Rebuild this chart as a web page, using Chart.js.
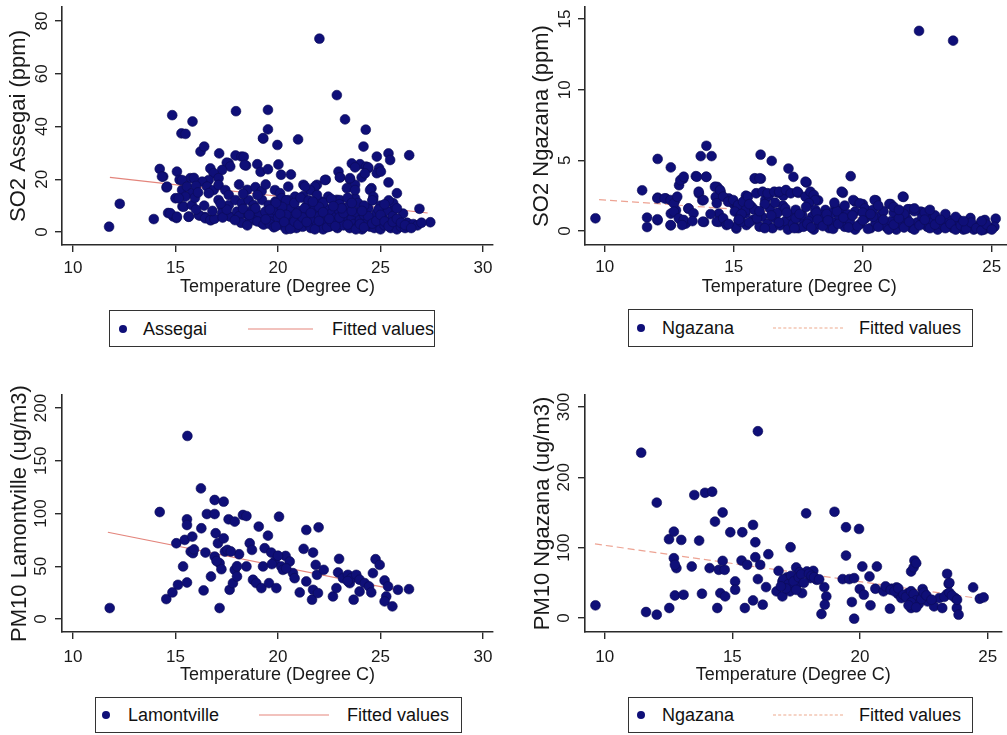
<!DOCTYPE html>
<html>
<head>
<meta charset="utf-8">
<script src="https://cdn.jsdelivr.net/npm/chart.js@4.4.1/dist/chart.umd.min.js"></script>
<style>
  html, body { margin: 0; padding: 0; background: #fff; width: 1007px; height: 735px; overflow: hidden; }
  canvas { position: absolute; }
  .lg { position: absolute; border: 1.5px solid #333; box-sizing: border-box; background: #fff;
        font: 18px "Liberation Sans", Arial, sans-serif; color: #111; }
  .lg span { position: absolute; top: 50%; transform: translateY(-50%); white-space: nowrap; }
  .lg .dot { width: 8px; height: 8px; border-radius: 50%; background: #0f0f78; margin-left: -4px; }
  .lg .ln { height: 0; border-top: 1.2px solid; }
</style>
</head>
<body>
<canvas id="c1" width="500" height="300" style="left:0;top:0"></canvas>
<canvas id="c2" width="519" height="300" style="left:500px;top:0"></canvas>
<canvas id="c3" width="500" height="317" style="left:0;top:370px"></canvas>
<canvas id="c4" width="507" height="317" style="left:500px;top:370px"></canvas>
<script>
/* ---------- данные ---------- */
const xTitle = 'Temperature (Degree C)';
const fitLabel = 'Fitted values';
const seriesNames = ['Assegai', 'Ngazana', 'Lamontville', 'Ngazana'];
const yTitles = ['SO2 Assegai (ppm)', 'SO2 Ngazana (ppm)', 'PM10 Lamontville (ug/m3)', 'PM10 Ngazana (ug/m3)'];

const xTicks1 = [10, 15, 20, 25, 30];
const xTicks2 = [10, 15, 20, 25];
const yTicks1 = [0, 20, 40, 60, 80];
const yTicks2 = [0, 5, 10, 15];
const yTicks3 = [0, 50, 100, 150, 200];
const yTicks4 = [0, 100, 200, 300];

// [temperature, value]
const so2Assegai = [
  [11.76,2.0],[12.28,10.7],[13.94,4.9],[14.23,23.9],[14.4,21],[14.56,16.9],[14.84,44.3],[15.29,37.4],[15.49,37.2],
  [15.83,41.9],[15.07,22.9],[15.2,19.8],[15.0,12.8],[15.34,9.7],[14.64,7.2],[14.89,5.9],[15.05,5.3],[15.65,5.8],
  [16.19,6.2],[16.43,5.7],[16.73,4.5],[16.22,30.5],[16.4,32.4],[17.13,29.8],[17.59,26.1],[17.95,45.8],[17.93,29],
  [18.22,28.6],[18.44,25.2],[18.99,25.7],[19.15,22.8],[19.28,35.4],[19.51,46.3],[19.51,38.9],[19.51,23.8],[19.97,33],
  [20.02,25.6],[20.15,21.7],[20.63,21.8],[20.98,35.1],[22.02,73.3],[22.87,51.9],[23.27,42.7],[24.28,38.8],[24.17,32.4],
  [24.0,25.7],[24.3,24.8],[24.4,24.2],[24.82,28.6],[24.93,24.2],[24.82,22.3],[25.39,29.8],[25.47,27.3],[25.39,18.8],
  [26.4,29.1],[25.8,14.7],[26.9,8.8],[27.43,3.7],[22.95,22.9],[23.03,20.7],[22.33,19.8],[21.9,17.9],[21.73,15.7],
  [21.24,17.9],[23.52,19.8],[23.76,17.9],[23.36,16.6],[22.87,12.2],[24.56,16.6],[24.64,12.2],
  [19.27,35.6],[18.33,28.5],[18.37,25.4],[17.5,26.3],[17.67,24.8],[17.27,23.5],[16.7,24.1],[16.86,22.3],[17.1,20.4],
  [16.62,19.7],[16.3,19.1],[15.72,20.4],[15.32,19.7],[14.34,21],[14.59,17.2],[15.32,15.9],[15.56,17.2],[15.8,14.7],
  [15.48,13.4],[15.16,12.8],[15.4,9.6],[15.8,10.2],[16.54,17.2],[16.86,15.9],[16.62,14.7],[17.1,17.8],[17.43,15.9],
  [17.6,14],[17.1,12.1],[17.27,9.6],[17.6,10.2],[17.92,12.1],[18.24,10.9],[18.57,12.1],[18.81,10.2],[19.22,12.1],
  [19.55,10.2],[19.87,11.5],[17.27,7.1],[17.67,5.8],[18.0,7.7],[18.4,7.1],[18.73,8.3],[19.06,6.4],[19.38,7.7],
  [19.71,5.8],[19.62,3.9],[19.22,3.3],[18.81,4.5],[14.75,7.1],[15.07,5.8],[15.64,5.8],[16.13,6.4],[16.45,5.2],[16.7,4.5],
  [15.9,20.5],[16.0,17.5],[15.95,13],[16.1,15],[18.1,18],[18.5,16],[18.9,17],[19.2,15.5],[19.4,18],[18.3,14.5],[19.0,14],
  [20.5,17.2],[19.85,15.9],[20.1,14.7],[23.6,26],[23.76,24.5],[24.4,24.5],[25.02,22.9],[23.02,20.7],[23.51,20.4],
  [24.08,20.7],[24.24,22.2],[22.29,19.7],[21.8,17.2],[21.56,15.9],[21.32,17.2],[21.23,13.6],[20.83,13.4],[20.5,12.1],
  [20.18,12.8],[24.49,15.9],[24.65,13.4],[23.76,12.8],[23.02,12.1],[22.45,13.4],[22.13,11.5],[23.76,15.9],[25.62,10.9],
  [25.55,7.7],[16.9,5],[17.3,5.5],[18.1,6],[18.6,5],[19.0,4],[19.3,2.8],[19.6,3],[19.8,1.8],
  [19.9,8],[20.0,5.5],[20.2,2.5],[20.3,7],[20.4,1],[20.5,4.5],[20.6,9],[20.7,3],[20.8,6],[20.9,1.5],[21.0,8],[21.1,4],
  [21.2,2],[21.3,6.5],[21.4,10],[21.5,3],[21.6,1.5],[21.7,5],[21.8,8.5],[21.9,2.5],[22.0,6],[22.1,3.5],[22.2,1],[22.3,9],
  [22.4,4.5],[22.5,2],[22.6,7],[22.7,3],[22.8,5.5],[22.9,1.5],[23.0,8],[23.1,4],[23.2,2.5],[23.3,6],[23.4,9.5],[23.5,1.5],
  [23.6,5],[23.7,3],[23.8,7.5],[23.9,2],[24.0,4.5],[24.1,1],[24.2,6.5],[24.3,3],[24.4,9],[24.5,2],[24.6,5],[24.7,1.5],
  [24.8,7],[24.9,3.5],[25.0,1],[25.1,5.5],[25.2,2.5],[25.3,8],[25.4,4],[25.5,1.5],[25.6,6],[25.7,3],[25.8,1],[25.9,4.5],
  [26.0,2],[26.1,7],[26.2,1.5],[26.3,3.5],[26.4,2],[26.6,3],[26.8,2.5],[27.0,3.5],
  [20.1,10],[20.4,12],[20.8,11],[21.1,13],[21.5,12],[21.9,14],[22.2,11],[22.6,12.5],[23.0,10.5],[23.4,13],[23.9,11],
  [24.2,10],[24.6,12],[25.0,10],[25.4,12],[25.8,9],[22.0,9.5],[21.3,9],[24.9,8.5],[20.2,9.5],[20.4,6.5],[19.9,11],
  [18.2,3.5],[18.5,2.5],[18.9,9],[19.4,4.8],[19.6,8.5],[19.9,2.2],[20.1,6.8],[20.3,3.8],[20.6,1.2],[20.8,4],[21.0,2.8],
  [21.2,5.5],[21.4,3.8],[21.6,7.2],[21.8,1],[22.0,4.2],[22.2,7.5],[22.4,1.8],[22.6,4],[22.8,2.2],[23.0,5.5],[23.2,7.2],
  [23.4,2.8],[23.6,8],[23.8,1],[24.0,3],[24.2,1.8],[24.4,6],[24.6,3.2],[24.8,4.2],[25.0,6.5],[25.2,4],[25.4,2.2],
  [25.6,3.8],[25.8,5],[26.0,3.5],[26.2,2.6],[26.5,1.5],[17.5,8.5],[17.9,4.5],[18.3,8.8],[18.6,6.5],[16.8,8],[17.2,10.8],
  [16.4,10],[16.0,8.5],[20.9,7],[22.5,5],[23.1,9],[24.1,8],[22.7,9.8],[21.7,11.5],[23.6,11],[25.2,10.5]
];

const so2Ngazana = [
  [9.64,0.9],[22.18,14.16],[23.5,13.47],[11.45,2.88],[11.64,0.95],[11.64,0.28],[12.05,5.1],[12.05,0.76],[12.56,4.5],
  [12.05,2.36],[12.37,2.3],[12.56,1.23],[12.56,0.4],[12.73,2.17],[12.76,1.47],[12.88,3.24],[13.04,3.7],[12.95,0.76],
  [13.14,0.52],[13.24,1.58],[13.53,3.88],[13.72,5.3],[14.14,5.3],[13.94,6.03],[13.94,3.83],[13.65,2.65],[13.78,2.17],
  [13.85,0.64],[14.36,3.12],[14.49,2.77],[14.3,2.41],[14.42,1.23],[14.42,0.64],[14.81,2.3],[15.0,1.9],[15.13,1.7],
  [15.1,0.17],[15.19,0.76],[15.47,2.5],[15.83,3.7],[16.05,3.7],[16.04,5.4],[16.47,4.96],[15.45,1.23],[15.7,1.7],
  [16.22,2.2],[16.35,2.5],[16.73,2.7],[16.92,2.5],[17.12,4.42],[17.31,3.83],[17.5,2.7],[17.82,3.43],[17.95,2.65],
  [18.08,2.4],[18.27,2.17],[19.23,2.7],[19.53,3.88],[19.71,2.06],[20.0,1.9],[20.51,2.17],[21.09,1.9],[21.58,2.41],
  [21.82,1.54],[22.31,1.3],[24.17,0.92],[25.15,0.87],
  [12.04,2.31],[12.04,0.83],[12.32,2.31],[12.55,2.19],[12.68,1.96],[12.81,2.43],[12.93,3.6],[13.06,3.84],[12.68,1.37],
  [12.87,0.9],[13.06,0.78],[12.55,0.42],[13.0,0.42],[13.25,1.6],[13.44,1.25],[13.57,3.84],[13.93,3.84],[13.64,2.78],
  [13.83,2.19],[13.8,0.66],[14.27,3.13],[14.47,2.9],[14.59,2.43],[14.34,1.96],[14.78,2.07],[14.34,0.66],[14.59,0.9],
  [14.72,0.42],[14.98,2.19],[15.17,1.84],[15.36,2.07],[15.55,2.43],[15.04,1.37],[15.23,1.01],[15.48,1.49],[15.1,0.3],
  [15.49,0.42],[15.74,0.78],[15.29,0.66],[15.81,3.73],[16.0,3.73],[15.87,2.67],[16.12,2.78],[16.31,2.67],[16.57,2.78],
  [16.76,2.78],[17.02,2.9],[17.21,2.67],
  [15.3,1.2],[15.6,0.6],[15.8,1.5],[16.0,0.3],[16.1,1.0],[16.3,0.5],[16.4,1.6],[16.5,0.2],[16.6,0.9],[16.7,1.3],[16.8,0.4],
  [16.9,1.8],[17.0,0.7],[17.1,0.1],[17.2,1.1],[17.3,0.5],[17.4,1.5],[17.5,0.2],[17.6,0.9],[16.2,1.9],[16.6,2.0],[17.0,1.6],
  [17.78,3.49],[17.46,2.78],[17.78,2.43],[17.97,2.78],[18.1,2.55],[18.16,2.19],[17.91,1.96],[19.18,2.78],[19.63,2.19],
  [19.88,1.96],[20.08,1.6],[19.7,1.37],[20.46,2.19],[21.03,1.91],[21.55,2.43],[21.74,1.54],[22.25,1.37],[22.63,0.9],
  [18.55,1.49],[18.93,1.72],[19.18,1.37],[18.8,1.25],[18.42,1.13],[18.16,1.49],[18.04,1.01],[17.65,1.13],[17.4,0.9],
  [23.71,0.78],[24.73,0.78],[23.14,0.54],
  [17.7,0.3],[17.9,0.7],[18.1,0.1],[18.3,0.5],[18.5,0.9],[18.7,0.2],[18.9,0.6],[19.1,1.0],[19.3,0.3],[19.5,0.7],[19.7,0.1],
  [19.9,0.5],[20.1,0.9],[20.3,0.2],[20.5,0.6],[20.7,1.1],[20.9,0.3],[21.1,0.7],[21.3,0.1],[21.5,0.5],[21.7,0.9],[21.9,0.2],
  [22.1,0.6],[22.3,1.0],[22.5,0.3],[22.7,0.6],[22.9,0.1],[23.1,0.4],[23.3,0.8],[23.5,0.2],[23.7,0.5],[23.9,0.1],[24.1,0.3],
  [24.3,0.1],[24.5,0.4],[24.7,0.1],[24.9,0.2],[25.1,0.3],
  [18.2,1.3],[18.6,1.2],[19.0,1.4],[19.4,1.2],[20.0,1.3],[20.4,1.5],[20.8,1.4],[21.2,1.3],[21.6,1.2],[22.0,1.4],[22.4,1.3],
  [22.8,1.1],[23.2,1.2],[23.6,1.0],[20.6,1.8],[21.2,1.7],[22.0,1.6],[19.3,1.8],
  [15.9,0.9],[16.2,0.2],[16.45,1.1],[16.75,0.6],[17.05,1.3],[17.35,0.2],[17.55,1.2],[17.85,0.5],[18.0,0.25],[18.25,0.8],
  [18.45,0.35],[18.65,0.75],[18.85,0.15],[19.05,0.5],[19.25,0.95],[19.45,0.25],[19.6,1.1],[19.8,0.35],[20.0,0.75],
  [20.2,0.15],[20.4,1.0],[20.6,0.3],[20.8,0.8],[21.0,0.1],[21.2,0.45],[21.4,0.9],[21.6,0.25],[21.8,0.65],[22.0,0.1],
  [22.2,0.4],[22.4,0.8],[22.6,0.2],[22.8,0.45],[23.0,0.8],[23.2,0.2],[23.4,0.5],[23.6,0.1],[23.8,0.4],[24.0,0.15],
  [24.2,0.6],[24.4,0.2],[24.6,0.05],[24.8,0.45],[25.0,0.1],[15.6,1.9],[15.2,0.8],[14.8,0.5],[14.1,1.2],[13.4,0.7],
  [16.0,1.4],[17.8,1.7],[18.9,2.0],[20.3,1.2],[21.4,1.5],[22.6,1.5],[23.9,0.7],[24.6,0.7]
];

const pm10Lamontville = [
  [11.79,10.4],[14.23,101.4],[15.58,173.5],[16.24,123.8],[14.55,18.9],[14.85,25.2],[15.12,32.4],[15.04,71.8],[15.37,49.8],
  [15.56,34.6],[15.45,75],[15.56,94.5],[15.56,89.1],[15.82,78.1],[15.74,63.9],[15.85,62.4],[16.26,86],[16.46,63],
  [16.37,27.1],[16.53,99.5],[16.73,40.3],[16.91,112.8],[17.35,111.2],[16.91,99.5],[16.96,81.3],[17.07,71.8],[16.91,59.2],
  [17.15,52.9],[17.24,47.2],[17.35,76.5],[17.41,63.9],[17.15,10.4],[17.53,65.5],[17.59,94.5],[17.89,92.3],[17.64,27.7],
  [17.8,34],[17.89,46.6],[18.0,40.3],[18.1,61.4],[18.29,98.6],[18.46,97.6],[18.46,49.8],[18.62,71.8],[18.73,65.5],
  [18.78,37.2],[18.94,34],[19.06,87.6],[19.19,29.3],[19.27,49.8],[19.35,67.1],[19.51,79],[19.56,34],[19.67,63],
  [19.84,54.5],[19.92,29.3],[20.05,97],[20.16,49.8],[20.24,46.6],[20.37,59.8],[20.57,54.5],[20.73,43.5],[20.81,38.7],
  [21.06,25.2],[21.25,66.5],[21.38,84.4],[21.38,35.6],[21.71,63],[21.71,27.7],[21.66,18.3],[21.84,51.3],[21.98,86.9],
  [21.9,41.9],[21.95,24.6],[22.23,46.6],[22.68,21.4],[22.85,29.3],[22.98,57],[22.93,44.1],[23.17,38.7],[23.41,41.9],
  [23.5,34],[23.58,38.7],[23.69,18.3],[23.82,41.9],[23.98,37.2],[23.98,26.1],[24.23,34],[24.44,30.9],[24.55,25.2],
  [24.63,43.5],[24.76,56.7],[24.96,51.3],[25.2,36.5],[25.28,21.4],[25.2,16.7],[25.37,30.9],[25.58,12],[25.85,27.7],
  [26.39,28.3],[17.0,55],[18.0,50],[19.7,52],[20.0,60],[20.4,48],[23.4,36],[15.9,66],[17.7,64]
];

const pm10Ngazana = [
  [9.64,18],[11.43,235],[16.0,265.5],[12.04,164],[11.62,8.5],[12.04,4.7],[12.53,14.2],[12.52,112],[12.71,122.8],[13.0,111],
  [12.71,85],[12.81,70.9],[12.75,75.6],[12.75,32],[13.09,33],[13.41,73.2],[13.51,174.8],[13.7,110],[13.81,34.5],
  [13.93,178],[14.21,179.5],[14.11,70.9],[14.32,137],[14.41,14.2],[14.47,68.5],[14.7,68.5],[14.53,35.4],[14.72,30.7],
  [14.62,150],[14.62,81.2],[14.92,121.9],[15.11,52],[15.11,40.2],[15.39,121.9],[15.36,81.7],[15.49,14.2],[15.58,75.6],
  [15.81,132.3],[15.81,25],[15.9,107.7],[15.9,86.4],[16.0,55.3],[16.09,75.6],[16.19,18.9],[16.32,43.9],[16.41,90.7],
  [16.73,37.8],[16.81,67],[16.96,52],[16.96,30.7],[17.13,57.6],[17.28,100.6],[17.26,37.8],[17.5,71.8],[17.51,47.2],
  [17.64,65.2],[17.73,35.4],[17.89,148.8],[17.92,66.1],[18.05,56.7],[18.17,67],[18.3,54.3],[18.49,5.7],[18.6,43.9],
  [18.68,30.7],[18.62,18.9],[19.0,151],[19.32,55.3],[19.45,129],[19.45,88.8],[19.58,55.3],[19.68,22.7],[19.77,56.7],
  [19.77,-1],[19.96,126.6],[19.99,41.1],[20.09,73.2],[20.15,33.1],[20.37,59],[20.41,18],[20.66,73.2],[20.6,41.6],
  [20.92,37.8],[21.17,13.2],[21.24,41.6],[21.43,43.5],[21.49,34],[21.62,28.3],[21.88,35.4],[22.0,66.1],[22.13,81.7],
  [22.0,14.2],[22.16,28.3],[22.39,30.7],[22.45,41.1],[22.64,23.6],[22.9,16.5],[23.1,28.3],[23.22,14.2],[23.41,62.8],
  [23.41,34],[23.47,48.7],[23.73,28.3],[23.79,14.2],[23.86,4.7],[24.43,43.5],[24.69,27.4],[24.84,29.3],
  [17.0,55],[17.2,48],[17.3,60],[17.4,52],[17.6,58],[17.7,62],[17.8,50],[18.0,63],[18.1,60],[18.2,58],[18.4,55],[17.1,42],
  [17.5,40],[16.9,45],[21.0,45],[21.2,40],[21.35,38],[21.5,42],[21.7,33],[21.8,30],[22.0,38],[22.1,34],[22.2,25],[22.3,20],
  [22.4,27],[22.5,36],[22.6,32],[22.8,26],[22.0,22],[21.9,18],[22.2,15],[23.3,30],[23.5,36],[23.6,32],[23.8,26],[22.1,72],
  [22.2,78],[23.5,50]
];

// fitted line end points [temperature, value]
const fit1 = [[11.8, 20.7], [27.3, 7.2]];
const fit2 = [[9.78, 2.22], [25.0, 0.28]];
const fit3 = [[11.7, 82.2], [25.8, 27.7]];
const fit4 = [[9.62, 105.3], [25.0, 26.0]];

/* ---------- графики ---------- */
Chart.defaults.font.family = '"Liberation Sans", Arial, sans-serif';
Chart.defaults.color = '#1a1a1a';
const DOT = '#0f0f78';
const AXIS = '#2a2a2a';

function panel(id, o){
  new Chart(document.getElementById(id), {
    type: 'scatter',
    data: { datasets: [
      { data: o.pts.map(p => ({x: p[0], y: p[1]})), backgroundColor: DOT, borderColor: '#0b0b55', borderWidth: 0.6,
        pointRadius: 4.9, order: 1 },
      { type: 'line', data: o.fit.map(p => ({x: p[0], y: p[1]})), borderColor: o.fitColor, borderWidth: 1.2,
        borderDash: o.dash, pointRadius: 0, order: 2 }
    ]},
    options: {
      responsive: false, animation: false, events: [],
      layout: { padding: { top: o.top, right: o.right, left: 0, bottom: 0 } },
      plugins: { legend: { display: false }, tooltip: { enabled: false } },
      scales: {
        x: {
          type: 'linear', min: o.xmin, max: o.xmax,
          afterBuildTicks: s => { s.ticks = o.xt.map(v => ({value: v})); },
          afterFit: s => { s.height = 55; s.paddingLeft = 0; s.paddingRight = 0; },
          grid: { drawOnChartArea: false, drawTicks: true, tickLength: 7, color: AXIS, lineWidth: 1.4 },
          border: { display: true, color: AXIS, width: 1.6 },
          ticks: { font: { size: 17 }, padding: o.xpad, maxRotation: 0, color: '#1a1a1a' },
          title: { display: true, text: xTitle, font: { size: 18 }, padding: { top: 0, bottom: o.xtpad }, color: '#1a1a1a' }
        },
        y: {
          type: 'linear', min: o.ymin, max: o.ymax,
          afterBuildTicks: s => { s.ticks = o.yt.map(v => ({value: v})); },
          afterFit: s => { s.width = o.yw; s.paddingTop = 0; s.paddingBottom = 0; },
          grid: { drawOnChartArea: false, drawTicks: true, tickLength: 7, color: AXIS, lineWidth: 1.4 },
          border: { display: true, color: AXIS, width: 1.6 },
          ticks: { font: { size: 17 }, minRotation: 90, maxRotation: 90, crossAlign: 'center', padding: o.ypad, color: '#1a1a1a' },
          title: { display: true, text: o.ytitle, font: { size: 22 }, padding: { top: o.ytpad, bottom: 0 }, color: '#1a1a1a' }
        }
      }
    }
  });
}

const SOLID = 'rgba(222,110,100,0.85)';
const DASHC = 'rgba(232,140,120,0.8)';

panel('c1', { pts: so2Assegai, fit: fit1, fitColor: SOLID, dash: [], top: 7, right: 7,
  xmin: 9.463, xmax: 30.488, ymin: -4.93, ymax: 85.31, xt: xTicks1, yt: yTicks1,
  yw: 62, xpad: 6, xtpad: 2.2, ypad: 3, ytpad: 6.2, ytitle: yTitles[0] });
panel('c2', { pts: so2Ngazana, fit: fit2, fitColor: DASHC, dash: [7, 4], top: 7, right: 0,
  xmin: 9.235, xmax: 25.84, ymin: -0.99, ymax: 15.85, xt: xTicks2, yt: yTicks2,
  yw: 85, xpad: 5, xtpad: 2.2, ypad: 3, ytpad: 28.5, ytitle: yTitles[1] });
panel('c3', { pts: pm10Lamontville, fit: fit3, fitColor: SOLID, dash: [], top: 25, right: 7,
  xmin: 9.463, xmax: 30.488, ymin: -12.3, ymax: 212.3, xt: xTicks1, yt: yTicks3,
  yw: 62, xpad: 8, xtpad: 1.2, ypad: 0, ytpad: 6.8, ytitle: yTitles[2] });
panel('c4', { pts: pm10Ngazana, fit: fit4, fitColor: DASHC, dash: [7, 4], top: 25, right: 0,
  xmin: 9.23, xmax: 25.54, ymin: -19.9, ymax: 317, xt: xTicks2, yt: yTicks4,
  yw: 85, xpad: 8, xtpad: 1.2, ypad: 0, ytpad: 30, ytitle: yTitles[3] });

/* ---------- легенды ---------- */
function legend(box, pos, name, dashed){
  const d = document.createElement('div');
  d.className = 'lg';
  Object.assign(d.style, { left: box[0] + 'px', top: box[1] + 'px', width: box[2] + 'px', height: box[3] + 'px' });
  const lineStyle = dashed ? 'dashed' : 'solid';
  const lineColor = dashed ? 'rgba(235,160,130,0.9)' : 'rgba(225,120,110,0.9)';
  d.innerHTML =
    `<span class="dot" style="left:${pos[0]}px"></span>` +
    `<span style="left:${pos[1]}px">${name}</span>` +
    `<span class="ln" style="left:${pos[2]}px;width:${pos[3] - pos[2]}px;border-top-style:${lineStyle};border-color:${lineColor}"></span>` +
    `<span style="left:${pos[4]}px">${fitLabel}</span>`;
  document.body.appendChild(d);
}
legend([109, 310, 326, 37], [13, 33, 138, 203, 222], seriesNames[0], false);
legend([628, 309, 345, 38], [12, 33, 144, 214, 230], seriesNames[1], true);
legend([95, 697, 367, 36], [10, 32, 163, 233, 251], seriesNames[2], false);
legend([628, 697, 345, 36], [12, 33, 144, 214, 230], seriesNames[3], true);
</script>
</body>
</html>
